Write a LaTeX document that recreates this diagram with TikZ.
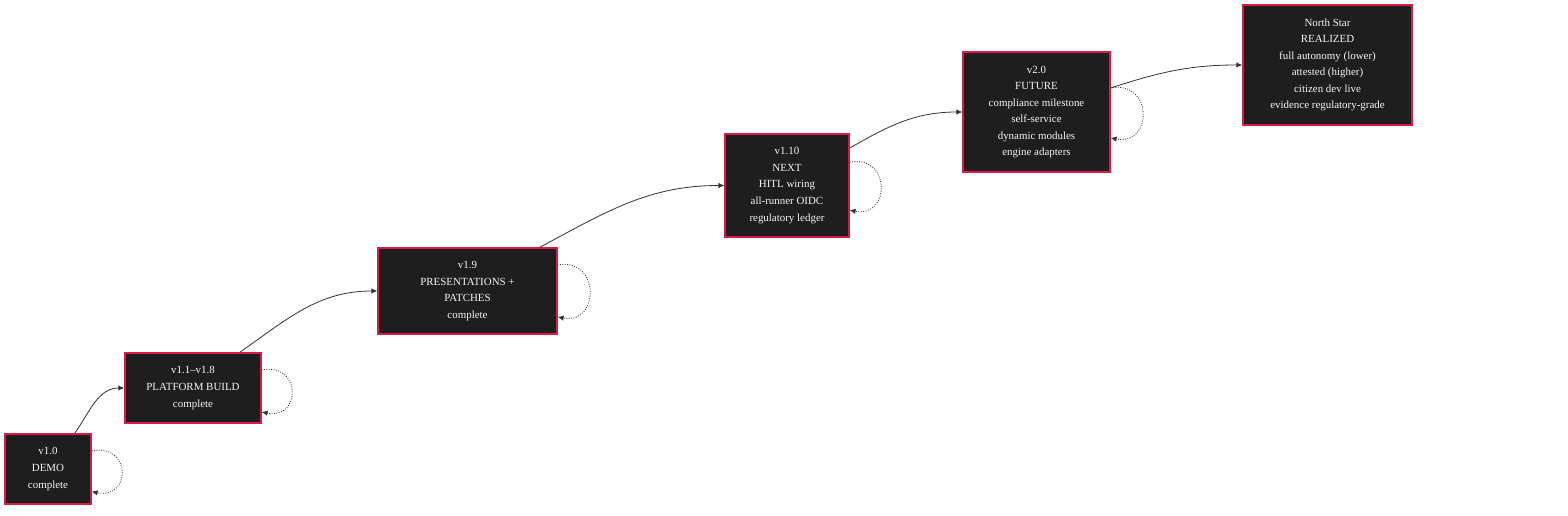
\documentclass[tikz,border=0pt]{standalone}
\usepackage{xcolor}
\usepackage{fontspec}
\setmainfont{Liberation Serif}
\usepackage{tikz}
\usetikzlibrary{positioning, arrows.meta, calc}

\definecolor{boxfill}{HTML}{1E1E1E}
\definecolor{boxline}{HTML}{D81B45}
\definecolor{edgegray}{HTML}{333333}

\begin{document}
\begin{tikzpicture}[
    x=0.75pt, y=-0.75pt,
    stage/.style={rectangle, draw=boxline, fill=boxfill, text=white!96!black, line width=0.9pt,
        align=center, inner sep=2pt, font=\fontsize{8.2}{12.4}\selectfont},
    flow/.style={draw=edgegray, line width=0.6pt, -{Latex[length=4.5pt,width=4pt]}},
    selfloop/.style={flow, dash pattern=on 0.7pt off 1.1pt}
]
\useasboundingbox (0,0) rectangle (1568,516);

% Stages
\node[stage, minimum width=64.5pt, minimum height=52.5pt] (demo) at (48,469) {v1.0\\DEMO\\complete};
\node[stage, minimum width=102pt, minimum height=52.5pt] (build) at (193,388) {v1.1--v1.8\\PLATFORM BUILD\\complete};
\node[stage, minimum width=134.25pt, minimum height=64.5pt] (pres) at (467.5,291) {v1.9\\PRESENTATIONS +\\PATCHES\\complete};
\node[stage, minimum width=93pt, minimum height=77.25pt] (next) at (787,185.5) {v1.10\\NEXT\\HITL wiring\\all-runner OIDC\\regulatory ledger};
\node[stage, minimum width=110.25pt, minimum height=90pt] (future) at (1036.5,112) {v2.0\\FUTURE\\compliance milestone\\self-service\\dynamic modules\\engine adapters};
\node[stage, minimum width=126.75pt, minimum height=90pt] (star) at (1327.5,65) {North Star\\REALIZED\\full autonomy (lower)\\attested (higher)\\citizen dev live\\evidence regulatory-grade};

% Progression
\draw[flow] ([xshift=20pt]demo.north) to[out=55, in=180] (build.west);
\draw[flow] ([xshift=35pt]build.north) to[out=35, in=180] (pres.west);
\draw[flow] ([xshift=54pt]pres.north) to[out=28, in=180] (next.west);
\draw[flow] ([yshift=28pt]next.east) to[out=30, in=180] (future.west);
\draw[flow] ([yshift=18pt]future.east) to[out=18, in=180] (star.west);

% Self loops
\draw[selfloop] ([yshift=13.5pt]demo.east) .. controls +(30pt,6pt) and +(30pt,-6pt) .. ([yshift=-17pt]demo.east);
\draw[selfloop] ([yshift=13.5pt]build.east) .. controls +(30pt,6pt) and +(30pt,-6pt) .. ([yshift=-18pt]build.east);
\draw[selfloop] ([yshift=19.5pt]pres.east) .. controls +(32pt,6pt) and +(32pt,-6pt) .. ([yshift=-19.5pt]pres.east);
\draw[selfloop] ([yshift=17.5pt]next.east) .. controls +(31pt,6pt) and +(31pt,-6pt) .. ([yshift=-18.5pt]next.east);
\draw[selfloop] ([yshift=18pt]future.east) .. controls +(32pt,6pt) and +(32pt,-6pt) .. ([yshift=-19.5pt]future.east);

\end{tikzpicture}
\end{document}
